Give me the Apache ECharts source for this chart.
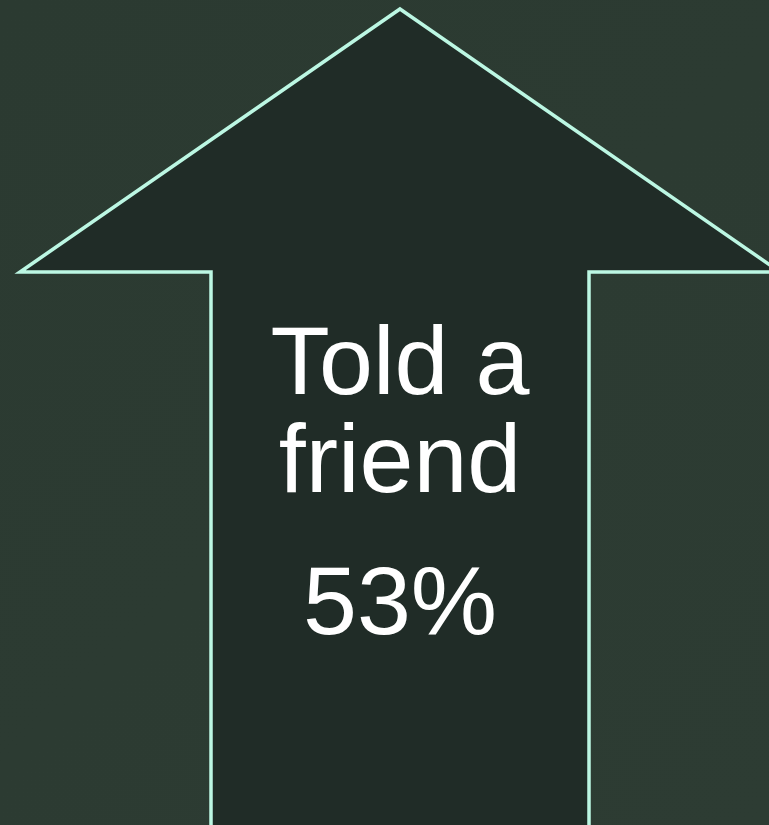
<!DOCTYPE html>
<html>
<head>
<meta charset="utf-8">
<script src="https://cdn.jsdelivr.net/npm/echarts@6/dist/echarts.min.js"></script>
<style>
html, body { margin: 0; padding: 0; background: #2c3b32; }
#chart { width: 769px; height: 825px; }
</style>
</head>
<body>
<div id="chart"></div>
<script>
// one metric, shown as an up arrow
const labels = ['Told a\nfriend'];
const percents = [53];

const arrowFill = '#202c27';
const arrowStroke = '#bcf7e3';
const font = '"Liberation Sans", Arial, sans-serif';
const fontSize = 97;

const chart = echarts.init(document.getElementById('chart'), null, { renderer: 'canvas' });

function renderArrow(params, api) {
    const h = api.getHeight();
    const cx = 400;
    const tipY = 9;
    const headY = 272;
    const headHalf = 380;
    const shaftHalf = 189;
    const lines = labels[params.dataIndex].split('\n');
    const pct = api.value(1) + '%';

    const children = [{
        type: 'polygon',
        shape: {
            points: [
                [cx, tipY],
                [cx + headHalf, headY],
                [cx + shaftHalf, headY],
                [cx + shaftHalf, h + 20],
                [cx - shaftHalf, h + 20],
                [cx - shaftHalf, headY],
                [cx - headHalf, headY],
            ],
        },
        style: { fill: arrowFill, stroke: arrowStroke, lineWidth: 3.5, lineJoin: 'miter' },
    }];
    // 'bottom' sits under the descent, so bump each line ~21px past the baseline
    lines.forEach((t, i) => {
        children.push({
            type: 'text',
            x: cx,
            y: 416 + i * 98,
            style: {
                text: t,
                fill: '#ffffff',
                font: fontSize + 'px ' + font,
                align: 'center',
                verticalAlign: 'bottom',
            },
        });
    });
    children.push({
        type: 'text',
        x: cx,
        y: 656,
        style: {
            text: pct,
            fill: '#ffffff',
            font: fontSize + 'px ' + font,
            align: 'center',
            verticalAlign: 'bottom',
        },
    });
    return { type: 'group', children };
}

chart.setOption({
    backgroundColor: {
        type: 'linear', x: 0, y: 0, x2: 1, y2: 1,
        colorStops: [
            { offset: 0, color: '#2b3a31' },
            { offset: 0.5, color: '#2c3b32' },
            { offset: 1, color: '#2d3c33' },
        ],
    },
    animation: false,
    grid: { left: 0, right: 0, top: 0, bottom: 0 },
    xAxis: { type: 'category', data: labels, show: false },
    yAxis: { type: 'value', min: 0, max: 100, show: false },
    series: [{
        type: 'custom',
        renderItem: renderArrow,
        data: percents.map((v, i) => [i, v]),
        silent: true,
    }],
});
</script>
</body>
</html>
